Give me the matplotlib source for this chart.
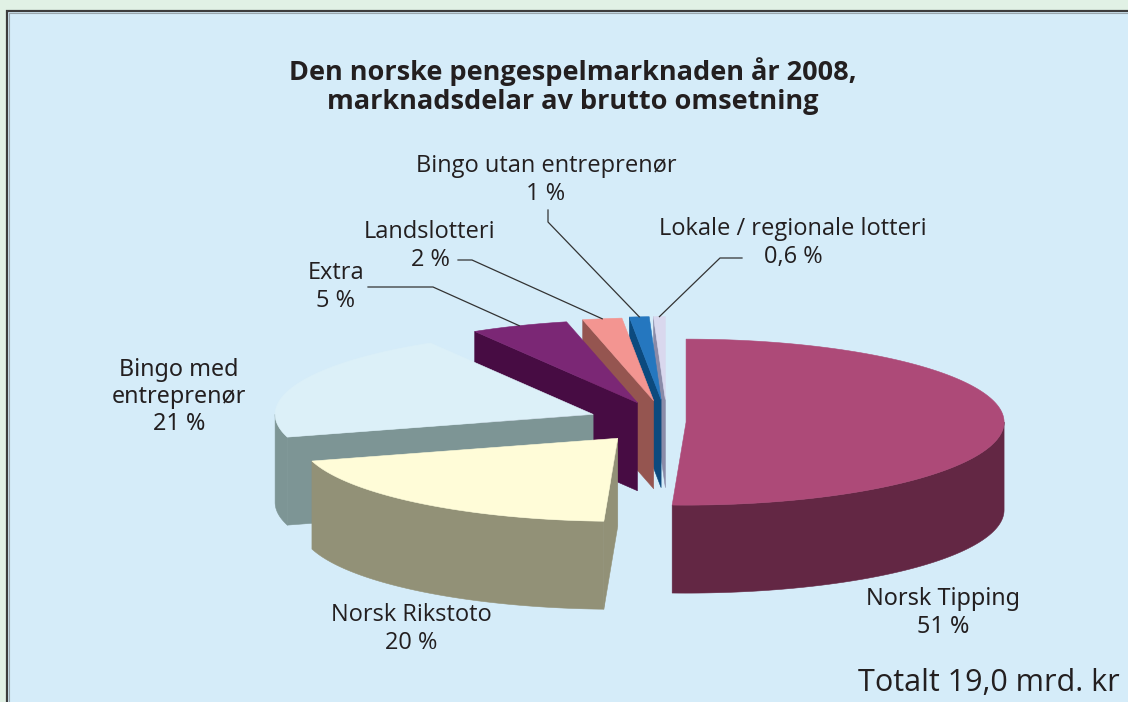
"""Den norske pengespelmarknaden 2008 - exploded 3D pie, drawn by hand with polygons."""
import numpy as np
import matplotlib
matplotlib.use("Agg")
import matplotlib.pyplot as plt
from matplotlib.patches import Polygon, Rectangle

labels = ["Norsk Tipping", "Norsk Rikstoto", "Bingo med\nentreprenør", "Extra",
          "Landslotteri", "Bingo utan entreprenør", "Lokale / regionale lotteri"]
pct_text = ["51 %", "20 %", "21 %", "5 %", "2 %", "1 %", "0,6 %"]
shares = [51, 20, 21, 5, 2, 1, 0.6]
explode = [0.06, 0.25, 0.25, 0.25, 0.26, 0.27, 0.27]
top_colors = ["#ad4a78", "#fffcd8", "#dcf0f8", "#7b2775", "#f39591", "#2577bf", "#d9d8ee"]
side_colors = ["#632744", "#929177", "#7d9595", "#470c43", "#955550", "#0c4a7e", "#8a8ba8"]

W, H = 1128, 702
fig = plt.figure(figsize=(W / 100, H / 100), dpi=100, facecolor="#e1f1e5")
ax = fig.add_axes([0, 0, 1, 1])
ax.set_xlim(0, W)
ax.set_ylim(H, 0)
ax.axis("off")

# panel
ax.add_patch(Rectangle((7, 11), W + 20, H + 20, facecolor="#d5ecf9",
                       edgecolor="#3c3c3c", lw=1.6, zorder=0))
ax.add_patch(Rectangle((8.5, 12.5), W + 20, H + 20, facecolor="none",
                       edgecolor="#9aa6ad", lw=0.8, zorder=0))

# pie geometry (screen pixels)
cx, cy, rx, ry, depth = 667, 422, 318, 83, 88


def pt(c, ang, r=1.0, dz=0.0):
    a = np.radians(ang)
    return np.column_stack([c[0] + r * rx * np.sin(a), c[1] - r * ry * np.cos(a) + dz])


angles = np.concatenate([[0], np.cumsum(shares)]) / np.sum(shares) * 360
slices = []
for i in range(len(shares)):
    a0, a1 = angles[i], angles[i + 1]
    mid = (a0 + a1) / 2
    c = (cx + explode[i] * rx * np.sin(np.radians(mid)),
         cy - explode[i] * ry * np.cos(np.radians(mid)))
    key = pt(c, mid, 0.5)[0, 1]
    slices.append((key, i, a0, a1, c))

for key, i, a0, a1, c in sorted(slices):
    kw = dict(linewidth=0.4, edgecolor=side_colors[i], joinstyle="round")
    # radial faces facing viewer
    for edge, normal in ((a0, a0 - 90), (a1, a1 + 90)):
        if -np.cos(np.radians(normal)) > 0:
            p = np.vstack([pt(c, edge, 0.0), pt(c, edge), pt(c, edge, 1.0, depth),
                           pt(c, edge, 0.0, depth)])
            ax.add_patch(Polygon(p, closed=True, facecolor=side_colors[i], **kw))
    # outer wall, front half only
    lo, hi = max(a0, 90), min(a1, 270)
    if hi > lo:
        t = np.linspace(lo, hi, 80)
        p = np.vstack([pt(c, t), pt(c, t[::-1], 1.0, depth)])
        ax.add_patch(Polygon(p, closed=True, facecolor=side_colors[i], **kw))
    # top face
    t = np.linspace(a0, a1, max(3, int((a1 - a0) * 2)))
    p = np.vstack([[c], pt(c, t)])
    ax.add_patch(Polygon(p, closed=True, facecolor=top_colors[i],
                         linewidth=0.4, edgecolor=top_colors[i]))

# texts
narrow = ["Open Sans", "DejaVu Sans"]
normal = ["Noto Sans", "DejaVu Sans"]
tc = "#231f20"
ax.text(573, 86, "Den norske pengespelmarknaden år 2008,\nmarknadsdelar av brutto omsetning",
        ha="center", va="center", fontsize=19.5, fontweight="bold", family=narrow,
        color=tc, linespacing=1.15)

label_pos = [(943, 613, normal), (411, 629, narrow), (179, 397, normal), (336, 287, narrow),
             (430, 246, narrow), (546, 180, narrow), (793, 243, narrow)]
for i, (x, y, fam) in enumerate(label_pos):
    big = fam is normal
    ax.text(x, y, labels[i] + "\n" + pct_text[i], ha="center", va="center",
            fontsize=16.8 if big else 17, family=fam, color=tc,
            linespacing=1.17 if big else 1.27)

# leader lines: label anchor -> elbow -> slice rim
leaders = [(3, (368, 287), (433, 287)), (4, (458, 260), (472, 260)),
           (5, (548, 210), (548, 222)), (6, (742, 258), (720, 258))]
for i, p0, p1 in leaders:
    _, _, a0, a1, c = [s for s in slices if s[1] == i][0]
    tip = pt(c, (a0 + a1) / 2)[0]
    ax.plot([p0[0], p1[0], tip[0]], [p0[1], p1[1], tip[1]], color="#333333", lw=0.9)

ax.text(1120, 683, "Totalt 19,0 mrd. kr", ha="right", va="center", fontsize=22,
        family=narrow, color=tc)

fig.savefig("out.png", dpi=100, facecolor=fig.get_facecolor())
